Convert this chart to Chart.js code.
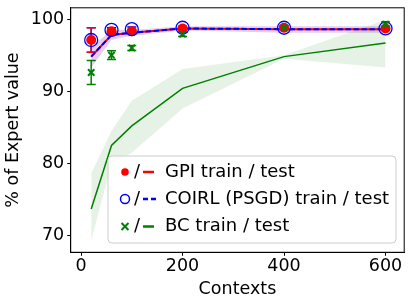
<!DOCTYPE html>
<html>
<head>
<meta charset="utf-8">
<script src="https://cdn.jsdelivr.net/npm/chart.js@4/dist/chart.umd.min.js"></script>
<style>
  body { margin: 0; background: #fff; }
  canvas { display: block; }
</style>
</head>
<body>
<canvas id="myChart" width="412" height="306"></canvas>
<script>
var contexts = [20, 60, 100, 200, 400, 600];
var xTicks = [0, 200, 400, 600];
var yTicks = [70, 80, 90, 100];

// train = markers with error bars, test = lines with shaded band
var gpi_train = [97.1, 98.3, 98.3, 98.7, 98.8, 98.7];
var gpi_train_err = [1.7, 0.3, 0.3, 0.2, 0.2, 0.2];
var gpi_test = [94.8, 97.8, 98.1, 98.7, 98.6, 98.6];
var gpi_test_lo = [93.3, 97.1, 97.7, 98.4, 98.1, 98.1];
var gpi_test_hi = [96.1, 98.5, 98.5, 99.0, 99.0, 99.0];

var coirl_train = [97.1, 98.5, 98.6, 98.8, 98.8, 98.7];
var coirl_train_err = [1.7, 0.3, 0.3, 0.2, 0.2, 0.2];
var coirl_test = [94.8, 97.8, 98.1, 98.7, 98.6, 98.6];
var coirl_test_lo = [93.3, 97.1, 97.7, 98.4, 98.1, 98.1];
var coirl_test_hi = [96.1, 98.5, 98.5, 99.0, 99.0, 99.0];

var bc_train = [92.6, 95.0, 96.0, 97.9, 98.8, 99.3];
var bc_train_err = [1.65, 0.6, 0.35, 0.3, 0.3, 0.3];
var bc_test = [73.7, 82.5, 85.2, 90.4, 94.8, 96.7];
var bc_test_lo = [69.3, 80.0, 81.5, 87.6, 94.5, 93.3];
var bc_test_hi = [78.6, 84.5, 88.7, 93.1, 95.0, 99.9];

function pts(ys) {
  return contexts.map(function (x, i) { return { x: x, y: ys[i] }; });
}

var FONT = "'DejaVu Sans', sans-serif";
var errorBars = [
  { values: coirl_train, err: coirl_train_err, color: "blue" },
  { values: gpi_train, err: gpi_train_err, color: "red" },
  { values: bc_train, err: bc_train_err, color: "green" }
];

var errorBarPlugin = {
  id: "errorBars",
  beforeDatasetsDraw: function (chart) {
    var ctx = chart.ctx, xs = chart.scales.x, ys = chart.scales.y;
    ctx.save();
    errorBars.forEach(function (s) {
      ctx.strokeStyle = s.color;
      ctx.lineWidth = 1.5;
      s.values.forEach(function (v, i) {
        var px = xs.getPixelForValue(contexts[i]);
        var top = ys.getPixelForValue(v + s.err[i]);
        var bot = ys.getPixelForValue(v - s.err[i]);
        ctx.beginPath();
        ctx.moveTo(px, top); ctx.lineTo(px, bot);
        ctx.moveTo(px - 4.5, top); ctx.lineTo(px + 4.5, top);
        ctx.moveTo(px - 4.5, bot); ctx.lineTo(px + 4.5, bot);
        ctx.stroke();
      });
    });
    ctx.restore();
  }
};

var framePlugin = {
  id: "frame",
  afterDraw: function (chart) {
    var ctx = chart.ctx, a = chart.chartArea;
    ctx.save();
    ctx.strokeStyle = "#000";
    ctx.lineWidth = 1;
    ctx.strokeRect(a.left, a.top, a.right - a.left, a.bottom - a.top);

    // legend
    var lx = 108, ly = 156, lw = 288, lh = 87;
    ctx.beginPath();
    ctx.roundRect(lx, ly, lw, lh, 4);
    ctx.fillStyle = "rgba(255,255,255,0.8)";
    ctx.fill();
    ctx.strokeStyle = "#cccccc";
    ctx.stroke();
    var rows = [
      { y: 172, color: "red", mark: "dot", dash: [], label: "GPI train / test" },
      { y: 199, color: "blue", mark: "ring", dash: [5, 3], label: "COIRL (PSGD) train / test" },
      { y: 226.5, color: "green", mark: "x", dash: [], label: "BC train / test" }
    ];
    ctx.font = "18px " + FONT;
    ctx.textBaseline = "middle";
    rows.forEach(function (r) {
      ctx.strokeStyle = r.color;
      ctx.fillStyle = r.color;
      ctx.lineWidth = 1.5;
      ctx.setLineDash([]);
      if (r.mark === "dot") {
        ctx.beginPath(); ctx.arc(125, r.y, 3.8, 0, Math.PI * 2); ctx.fill();
      } else if (r.mark === "ring") {
        ctx.beginPath(); ctx.arc(125, r.y, 4.5, 0, Math.PI * 2); ctx.stroke();
      } else {
        ctx.lineWidth = 2;
        ctx.beginPath();
        ctx.moveTo(121.5, r.y - 3.5); ctx.lineTo(128.5, r.y + 3.5);
        ctx.moveTo(121.5, r.y + 3.5); ctx.lineTo(128.5, r.y - 3.5);
        ctx.stroke();
      }
      ctx.fillStyle = "#000";
      ctx.fillText("/", 134, r.y);
      ctx.strokeStyle = r.color;
      ctx.lineWidth = 2.5;
      ctx.setLineDash(r.dash);
      ctx.beginPath();
      ctx.moveTo(143, r.y); ctx.lineTo(r.dash.length ? 159 : 154, r.y);
      ctx.stroke();
      ctx.setLineDash([]);
      ctx.fillStyle = "#000";
      ctx.fillText(r.label, 165, r.y);
    });
    ctx.restore();
  }
};

function band(lo, hi, color) {
  return [
    { data: pts(lo), borderWidth: 0, pointRadius: 0, fill: false },
    { data: pts(hi), borderWidth: 0, pointRadius: 0, fill: "-1", backgroundColor: color }
  ];
}

var datasets = [
  { data: pts(bc_train), showLine: false, pointStyle: "crossRot", pointRadius: 4.5, borderColor: "green", borderWidth: 2 },
  { data: pts(coirl_train), showLine: false, pointStyle: "circle", pointRadius: 6.5, borderColor: "blue", backgroundColor: "rgba(0,0,0,0)", borderWidth: 1.3 },
  { data: pts(gpi_train), showLine: false, pointStyle: "circle", pointRadius: 5, borderColor: "red", backgroundColor: "red", borderWidth: 0 },
  { data: pts(coirl_test), borderColor: "blue", borderWidth: 2, borderDash: [5.5, 2.5], pointRadius: 0, fill: false },
  { data: pts(gpi_test), borderColor: "red", borderWidth: 2, pointRadius: 0, fill: false },
  { data: pts(bc_test), borderColor: "green", borderWidth: 1.5, pointRadius: 0, fill: false }
].concat(band(coirl_test_lo, coirl_test_hi, "rgba(0,0,255,0.1)"))
 .concat(band(gpi_test_lo, gpi_test_hi, "rgba(255,0,0,0.1)"))
 .concat(band(bc_test_lo, bc_test_hi, "rgba(0,128,0,0.1)"));

new Chart("myChart", {
  type: "line",
  data: { datasets: datasets },
  plugins: [errorBarPlugin, framePlugin],
  options: {
    responsive: false,
    devicePixelRatio: 1,
    animation: false,
    layout: { padding: { left: 0, top: 7.3, right: 7.7, bottom: 0 } },
    elements: { line: { tension: 0 } },
    plugins: { legend: { display: false }, tooltip: { enabled: false } },
    scales: {
      x: {
        type: "linear",
        min: -20.4,
        max: 636.8,
        afterBuildTicks: function (s) { s.ticks = xTicks.map(function (v) { return { value: v }; }); },
        afterFit: function (s) { s.height = 53.7; s.paddingLeft = 0; s.paddingRight = 0; },
        grid: { drawOnChartArea: false, drawTicks: true, tickLength: 3.5, color: "#000" },
        border: { display: true, color: "#000" },
        ticks: { color: "#000", font: { family: FONT, size: 17.5 }, padding: 0, maxRotation: 0 },
        title: { display: true, text: "Contexts", color: "#000", font: { family: FONT, size: 17.5 }, padding: { top: 0, bottom: 6 } }
      },
      y: {
        type: "linear",
        min: 67.7,
        max: 101.56,
        afterBuildTicks: function (s) { s.ticks = yTicks.map(function (v) { return { value: v }; }); },
        afterFit: function (s) { s.width = 70.7; s.paddingTop = 0; s.paddingBottom = 0; },
        grid: { drawOnChartArea: false, drawTicks: true, tickLength: 3.5, color: "#000" },
        border: { display: true, color: "#000" },
        ticks: { color: "#000", font: { family: FONT, size: 17.5 }, padding: 3 },
        title: { display: true, text: "% of Expert value", color: "#000", font: { family: FONT, size: 17.5 }, padding: { top: 3, bottom: 0 } }
      }
    }
  }
});
</script>
</body>
</html>
